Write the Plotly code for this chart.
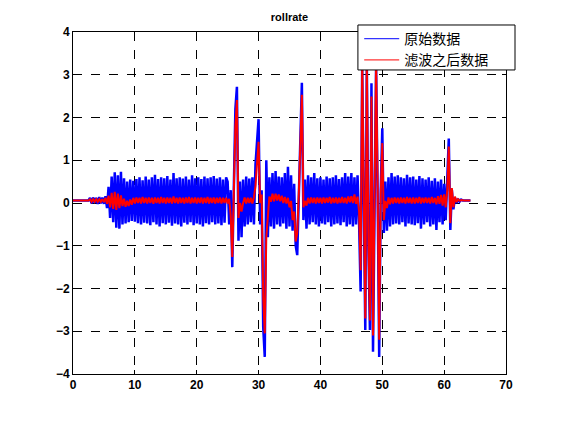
import numpy as np
import plotly.graph_objects as go

# sample step (s) of the read-off points
dt = 0.25

# raw signal ("原始数据"), one value every 0.25 s from t = 0
raw_values = [
    0.06, 0.06, 0.06, 0.06, 0.06, 0.06, 0.06, 0.06, 0.06, 0.06,
    0.06, 0.12, -0.01, 0.13, 0.0, 0.12, -0.02, 0.14, -0.01, 0.13,
    -0.02, 0.16, -0.12, 0.38, -0.35, 0.62, -0.45, 0.72, -0.58, 0.65,
    -0.6, 0.73, -0.5, 0.58, -0.48, 0.5, -0.45, 0.55, -0.42, 0.52,
    -0.44, 0.56, -0.47, 0.6, -0.5, 0.53, -0.46, 0.62, -0.48, 0.55,
    -0.52, 0.6, -0.45, 0.66, -0.5, 0.56, -0.55, 0.6, -0.47, 0.58,
    -0.5, 0.63, -0.46, 0.55, -0.53, 0.7, -0.48, 0.58, -0.5, 0.6,
    -0.55, 0.57, -0.46, 0.62, -0.5, 0.55, -0.45, 0.65, -0.52, 0.58,
    -0.48, 0.6, -0.5, 0.56, -0.55, 0.62, -0.47, 0.58, -0.5, 0.6,
    -0.45, 0.63, -0.5, 0.57, -0.48, 0.6, -0.52, 0.55, -0.46, 0.6,
    0.5, -0.5, 0.3, -1.5, 0.6, 2.2, 2.72, -0.88, 0.5, -0.8,
    0.55, -0.55, 0.62, -0.5, 0.57, -0.45, 0.6, -0.5, 0.9, 1.6,
    1.96, -0.5, 0.3, -2.9, -3.6, 1.0, -0.8, 0.6, -0.55, 0.7,
    -0.6, 0.75, -0.5, 0.62, -0.55, 0.6, -0.48, 0.7, -0.6, 0.85,
    -0.55, 0.65, -0.65, 0.45, -1.0, -1.22, 0.3, 1.9, 2.81, -0.4,
    0.55, -0.6, 0.65, -0.5, 0.6, -0.45, 0.7, -0.5, 0.58, -0.55,
    0.6, -0.48, 0.55, -0.5, 0.62, -0.45, 0.58, -0.55, 0.6, -0.5,
    0.65, -0.48, 0.56, -0.52, 0.6, -0.45, 0.7, -0.55, 0.62, -0.5,
    0.7, -0.55, 0.6, -0.5, 0.65, -0.48, -2.07, 3.2, 0.3, -2.97,
    3.3, -1.0, -2.97, 2.8, -3.48, 0.5, 3.2, 0.2, -3.6, 0.3,
    1.75, -0.7, 0.5, -0.65, 0.6, -0.55, 0.7, -0.5, 0.62, -0.48,
    0.65, -0.5, 0.6, -0.45, 0.58, -0.55, 0.66, -0.48, 0.6, -0.5,
    0.62, -0.52, 0.55, -0.47, 0.63, -0.6, 0.58, -0.5, 0.55, -0.45,
    0.6, -0.55, 0.52, -0.5, 0.58, -0.63, 0.5, -0.45, 0.55, -0.5,
    0.45, -0.4, 0.6, 1.51, -0.63, 0.3, -0.15, 0.12, 0.0, 0.1,
    0.03, 0.08, 0.06, 0.06, 0.06, 0.06, 0.06, 0.06,
]

# filtered signal ("滤波之后数据"), same sampling
filtered_values = [
    0.06, 0.06, 0.06, 0.06, 0.06, 0.06, 0.06, 0.06, 0.06, 0.06,
    0.06, 0.09, 0.03, 0.09, 0.03, 0.09, 0.03, 0.09, 0.03, 0.09,
    0.02, 0.12, -0.02, 0.17, -0.1, 0.24, -0.14, 0.26, -0.16, 0.22,
    -0.12, 0.18, -0.07, 0.1, -0.09, 0.05, -0.07, 0.08, -0.04, 0.12,
    -0.01, 0.13, 0.0, 0.12, -0.01, 0.14, 0.0, 0.12, -0.01, 0.13,
    0.0, 0.12, -0.02, 0.13, 0.0, 0.12, -0.01, 0.14, 0.0, 0.12,
    -0.01, 0.13, 0.0, 0.12, -0.01, 0.15, 0.0, 0.12, -0.01, 0.13,
    0.0, 0.12, -0.01, 0.13, 0.0, 0.14, -0.01, 0.12, 0.0, 0.13,
    -0.01, 0.12, 0.0, 0.13, -0.01, 0.12, 0.0, 0.14, -0.01, 0.12,
    0.0, 0.13, -0.01, 0.12, 0.0, 0.13, -0.01, 0.12, 0.0, 0.12,
    -0.01, 0.1, -0.3, -1.26, 0.3, 1.8, 2.41, -0.35, 0.0, -0.2,
    0.0, 0.13, -0.01, 0.12, 0.0, 0.12, -0.01, 0.13, 0.4, 1.0,
    1.43, 0.0, 0.2, -2.2, -3.05, -0.8, -0.3, 0.15, 0.03, 0.22,
    0.04, 0.22, 0.06, 0.2, 0.04, 0.17, 0.0, 0.14, -0.01, 0.12,
    -0.1, 0.05, -0.4, -0.2, -0.9, -0.7, 0.2, 1.4, 2.53, -0.1,
    0.05, -0.06, 0.12, -0.01, 0.13, 0.0, 0.12, -0.01, 0.13, 0.0,
    0.12, -0.01, 0.13, 0.0, 0.12, 0.01, 0.14, -0.01, 0.12, 0.0,
    0.13, -0.01, 0.12, 0.0, 0.14, 0.0, 0.12, -0.01, 0.15, 0.02,
    0.16, 0.0, 0.2, -0.02, 0.15, -0.2, -1.57, 3.3, 0.4, -2.7,
    3.3, -0.8, -2.75, 2.49, -3.1, 0.6, 3.3, 0.3, -3.2, 0.2,
    1.4, -0.4, 0.05, -0.12, 0.13, -0.03, 0.12, -0.01, 0.13, 0.0,
    0.12, -0.01, 0.13, 0.0, 0.12, -0.01, 0.14, 0.0, 0.12, -0.01,
    0.13, -0.01, 0.12, 0.0, 0.14, -0.01, 0.12, 0.0, 0.13, 0.0,
    0.12, -0.01, 0.14, 0.0, 0.12, -0.03, 0.16, -0.02, 0.19, -0.06,
    0.2, -0.1, 0.3, 1.32, -0.47, 0.35, -0.1, 0.15, 0.02, 0.09,
    0.05, 0.07, 0.06, 0.06, 0.06, 0.06, 0.06, 0.06,
]

series_names = ["原始数据", "滤波之后数据"]
series_colors = ["#0000ff", "#ff0000"]

x_ticks = [0, 10, 20, 30, 40, 50, 60, 70]
y_ticks = [-4, -3, -2, -1, 0, 1, 2, 3, 4]

t_raw = np.arange(len(raw_values)) * dt
t_filt = np.arange(len(filtered_values)) * dt

fig = go.Figure()
fig.add_trace(go.Scatter(x=t_raw, y=raw_values, mode="lines", name=series_names[0],
                         line=dict(color=series_colors[0], width=2.5), showlegend=False))
fig.add_trace(go.Scatter(x=t_filt, y=filtered_values, mode="lines", name=series_names[1],
                         line=dict(color=series_colors[1], width=2), showlegend=False))
# legend entries with thin line samples
for nm, col in zip(series_names, series_colors):
    fig.add_trace(go.Scatter(x=[None], y=[None], mode="lines", name=nm,
                             line=dict(color=col, width=1), hoverinfo="skip"))

axis_common = dict(
    showline=True, linecolor="black", linewidth=1, mirror="ticks",
    ticks="inside", ticklen=4, tickcolor="black",
    showgrid=True, gridcolor="black", griddash="dash", gridwidth=1,
    zeroline=False,
    tickfont=dict(family="Liberation Sans", size=12, color="black", weight="bold"),
)

# legend frame (white box with black border) drawn above the data
fig.add_shape(type="rect", xref="paper", yref="paper",
              x0=0.658, x1=1.0208, y0=0.889, y1=1.0205,
              fillcolor="white", line=dict(color="black", width=1), layer="above")

fig.update_layout(
    width=561, height=421,
    margin=dict(l=65, r=63, t=24, b=55),
    paper_bgcolor="white", plot_bgcolor="white",
    title=dict(text="<b>rollrate</b>", x=0.5, xref="paper", y=1 - 9 / 421, yref="container",
               xanchor="center", yanchor="middle",
               font=dict(family="Liberation Sans", size=11, color="black")),
    xaxis=dict(range=[0, 70], tickvals=x_ticks, **axis_common),
    yaxis=dict(range=[-4, 4], tickvals=y_ticks, **axis_common),
    legend=dict(x=0.661, y=1.026, xanchor="left", yanchor="top",
                bgcolor="rgba(0,0,0,0)", borderwidth=0,
                font=dict(family="Noto Sans CJK SC", size=14, color="black"),
                itemwidth=35, tracegroupgap=0),
    showlegend=True,
)

fig.write_html("out.html")
